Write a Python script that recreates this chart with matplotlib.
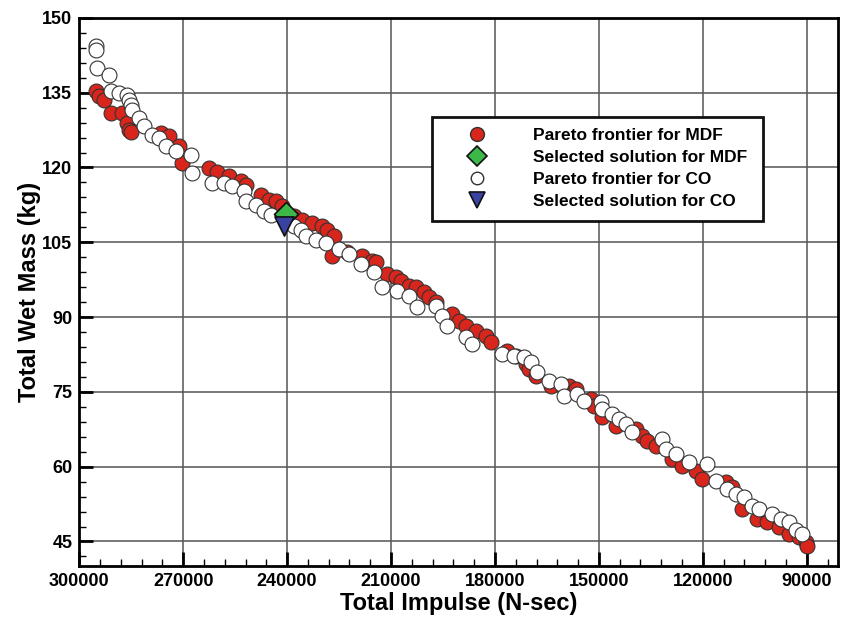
import matplotlib
matplotlib.use("Agg")
import matplotlib.pyplot as plt
from matplotlib.lines import Line2D
from matplotlib.ticker import MultipleLocator

# Pareto frontier, MDF (total impulse N-sec, total wet mass kg)
mdf_impulse = [295100, 294200, 292800, 290800, 287600, 286200, 285600, 285000, 276300, 274000,
               271200, 270300, 262500, 260200, 256700, 253300, 251800, 247500, 245200, 243200,
               241400, 238000, 235700, 232800, 229900, 228500, 226400, 227000, 222700, 218400,
               215500, 214300, 211200, 208600, 207100, 204800, 202800, 200500, 199000, 197000,
               192400, 190400, 188400, 185500, 182600, 181200, 176500, 173900, 171000, 170200,
               168200, 163800, 158700, 156600, 152300, 151400, 149100, 145100, 139300, 137600,
               136100, 133600, 128900, 126100, 122000, 120300, 113400, 111600, 108700, 104400,
               101500, 98100, 95200, 92300, 90300, 90000]
mdf_mass = [135.3, 134.3, 133.5, 130.9, 130.9, 128.9, 127.5, 127.1, 126.9, 126.3,
            124.3, 120.8, 119.8, 119.0, 118.2, 117.2, 116.4, 114.4, 113.4, 113.2,
            112.2, 110.2, 109.4, 108.8, 108.2, 107.4, 106.2, 102.3, 103.1, 102.3,
            101.3, 101.1, 98.7, 98.1, 97.3, 96.3, 96.1, 95.1, 94.1, 93.1,
            90.7, 89.3, 88.3, 87.3, 86.3, 85.0, 83.2, 82.2, 80.6, 79.6,
            78.2, 76.2, 76.2, 75.6, 73.6, 72.2, 70.0, 68.2, 67.5, 66.1,
            65.1, 64.1, 61.5, 60.1, 59.1, 57.5, 56.9, 55.9, 51.5, 49.5,
            48.9, 47.9, 46.4, 45.8, 44.8, 44.0]

# Pareto frontier, CO
co_impulse = [295100, 295100, 294800, 291300, 290800, 288500, 286200, 285600, 285000, 284700,
              282700, 281300, 278900, 276900, 274900, 272000, 267700, 267400, 261600, 258200,
              255900, 252400, 251800, 248900, 246600, 244600, 238000, 236000, 234500, 231600,
              228800, 225000, 222100, 218700, 214900, 212600, 208300, 204800, 202500, 197000,
              195300, 193800, 188400, 186600, 178000, 174500, 171600, 169600, 167900, 164400,
              161000, 160100, 156300, 154300, 149400, 149100, 146200, 144200, 142200, 140500,
              131800, 130700, 127800, 124000, 118800, 116200, 113100, 110500, 108200, 105900,
              103800, 100100, 97500, 95200, 93200, 91400]
co_mass = [144.4, 143.6, 139.9, 138.5, 135.3, 134.9, 134.5, 133.5, 132.5, 131.5,
           129.9, 128.3, 126.5, 125.9, 124.3, 123.3, 122.5, 118.8, 116.8, 116.8,
           116.2, 115.2, 113.2, 112.4, 111.2, 110.4, 108.2, 107.4, 106.2, 105.4,
           104.8, 103.7, 102.7, 100.7, 99.1, 96.1, 95.3, 94.3, 92.1, 92.3,
           90.3, 88.3, 86.0, 84.6, 82.6, 82.2, 82.0, 81.0, 79.0, 77.2,
           76.6, 74.2, 74.6, 73.2, 73.0, 71.6, 70.6, 69.6, 68.6, 66.9,
           65.5, 63.5, 62.5, 60.9, 60.5, 57.1, 55.5, 54.5, 53.9, 52.1,
           51.5, 50.5, 49.5, 48.9, 47.4, 46.4]

# selected solutions
mdf_sel = (240300, 110.6)
co_sel = (240800, 108.2)

labels = ["Pareto frontier for MDF", "Selected solution for MDF",
          "Pareto frontier for CO", "Selected solution for CO"]

plt.rcParams['font.family'] = ['Liberation Sans', 'DejaVu Sans']
plt.rcParams['font.weight'] = 'bold'

RED = "#d8261c"
GREEN = "#3cb848"
BLUE = "#3b43a2"

fig = plt.figure(figsize=(8.43, 6.17), dpi=100)
ax = fig.add_axes([0.094, 0.082, 0.900, 0.889])

ax.scatter(mdf_impulse, mdf_mass, s=115, c=RED, edgecolors="#333333", linewidths=0.8, zorder=3)
ax.scatter(co_impulse, co_mass, s=115, c="white", edgecolors="#333333", linewidths=0.8, zorder=4)
ax.scatter([mdf_sel[0]], [mdf_sel[1]], s=150, marker="D", c=GREEN, edgecolors="#111111",
           linewidths=1.2, zorder=5)
ax.scatter([co_sel[0]], [co_sel[1]], s=190, marker="v", c=BLUE, edgecolors="#111111",
           linewidths=1.2, zorder=6)

ax.set_xlim(300000, 81000)
ax.set_ylim(40, 150)
ax.xaxis.set_major_locator(MultipleLocator(30000))
ax.xaxis.set_minor_locator(MultipleLocator(6000))
ax.yaxis.set_major_locator(MultipleLocator(15))
ax.yaxis.set_minor_locator(MultipleLocator(3))
ax.grid(True, which="major", color="#555555", linewidth=1.1, zorder=0)
ax.set_axisbelow(True)
ax.tick_params(which="major", direction="in", length=10, width=2.0, labelsize=13, pad=5)
ax.tick_params(which="minor", direction="in", length=5, width=1.0)
for lab in ax.get_xticklabels() + ax.get_yticklabels():
    lab.set_fontweight("bold")
for sp in ax.spines.values():
    sp.set_linewidth(2.0)

ax.set_xlabel("Total Impulse (N-sec)", fontsize=17, fontweight="bold", labelpad=1)
ax.set_ylabel("Total Wet Mass (kg)", fontsize=17, fontweight="bold", labelpad=1)

handles = [
    Line2D([], [], marker="o", linestyle="none", markersize=10, markerfacecolor=RED, markeredgecolor="#333333"),
    Line2D([], [], marker="D", linestyle="none", markersize=10, markerfacecolor=GREEN, markeredgecolor="#111111", markeredgewidth=1.2),
    Line2D([], [], marker="o", linestyle="none", markersize=9, markerfacecolor="white", markeredgecolor="#333333"),
    Line2D([], [], marker="v", linestyle="none", markersize=12, markerfacecolor=BLUE, markeredgecolor="#111111", markeredgewidth=1.2),
]
leg = ax.legend(handles, labels, loc="upper left", bbox_to_anchor=(0.4645, 0.62, 0.437, 0.2),
                mode="expand", borderaxespad=0, frameon=True, fancybox=False, framealpha=1,
                handletextpad=1.34, labelspacing=0.4, borderpad=0.65, handlelength=3.87,
                prop={"weight": "bold", "size": 12.5})
leg.get_frame().set_edgecolor("#111111")
leg.get_frame().set_linewidth(2.0)
leg.set_zorder(10)

fig.savefig("out.png", dpi=100)
